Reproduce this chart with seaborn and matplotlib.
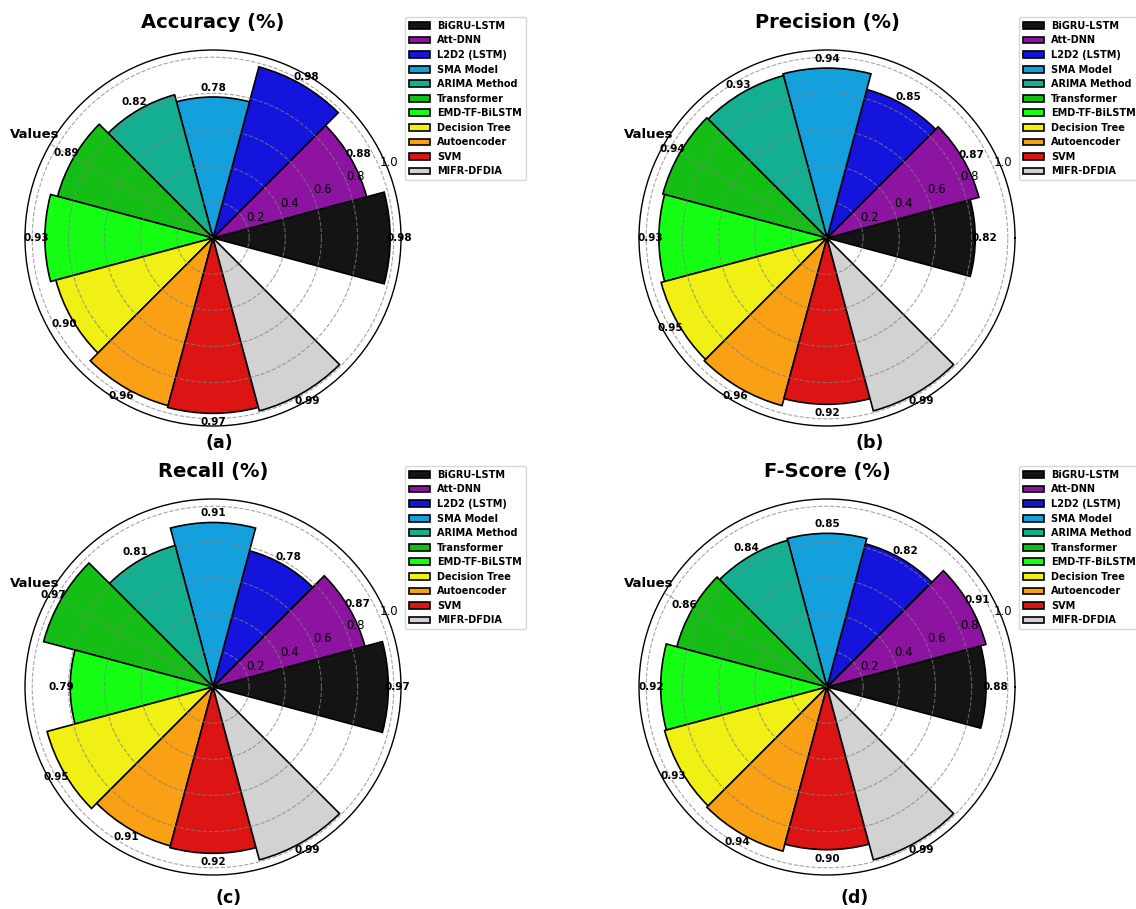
import numpy as np
import pandas as pd
import matplotlib
matplotlib.use("Agg")
import matplotlib.pyplot as plt
import seaborn as sns

# Models compared in each panel (counter-clockwise from the east direction)
models = ["BiGRU-LSTM", "Att-DNN", "L2D2 (LSTM)", "SMA Model", "ARIMA Method",
          "Transformer", "EMD-TF-BiLSTM", "Decision Tree", "Autoencoder", "SVM",
          "MIFR-DFDIA"]

accuracy = [0.98, 0.88, 0.98, 0.78, 0.82, 0.89, 0.93, 0.90, 0.96, 0.97, 0.99]
precision = [0.82, 0.87, 0.85, 0.94, 0.93, 0.94, 0.93, 0.95, 0.96, 0.92, 0.99]
recall = [0.97, 0.87, 0.78, 0.91, 0.81, 0.97, 0.79, 0.95, 0.91, 0.92, 0.99]
fscore = [0.88, 0.91, 0.82, 0.85, 0.84, 0.86, 0.92, 0.93, 0.94, 0.90, 0.99]

titles = ["Accuracy (%)", "Precision (%)", "Recall (%)", "F-Score (%)"]
panel_tags = ["(a)", "(b)", "(c)", "(d)"]
radial_ticks = [0.2, 0.4, 0.6, 0.8, 1.0]

colors = ["#141414", "#8C14A0", "#1414DC", "#14A0DC", "#14AF91", "#14BE14",
          "#14FF14", "#F0F014", "#FAA014", "#DC1414", "#D2D2D2"]

# 12 angular slots, the last one left empty
n_slots = 12
angles = np.arange(len(models)) * 2 * np.pi / n_slots

W, H = 1136, 909
fig = plt.figure(figsize=(W / 100, H / 100), dpi=100)

# axes boxes in pixels: (left, top, size)
boxes = [(25, 50, 376), (639, 50, 376), (25, 499, 376), (639, 499, 376)]
tag_pos = [(219, 443), (870, 443), (229, 898), (855, 898)]

for values, title, tag, (bx, by, bs), (tx, ty) in zip(
        [accuracy, precision, recall, fscore], titles, panel_tags, boxes, tag_pos):
    ax = fig.add_axes([bx / W, (H - by - bs) / H, bs / W, bs / H], projection="polar")

    df = pd.DataFrame({"angle": angles, "value": values, "model": models})
    sns.barplot(data=df, x="angle", y="value", hue="model", hue_order=models,
                palette=colors, native_scale=True, width=1.0, saturation=1,
                edgecolor="black", linewidth=1.2, errorbar=None, legend=False,
                ax=ax)
    ax.set_xlabel("")
    ax.set_ylabel("")

    ax.set_ylim(0, 1.04)
    ax.set_yticks(radial_ticks)
    ax.set_yticklabels([f"{t:.1f}" for t in radial_ticks], fontsize=8.5)
    ax.set_rlabel_position(22.5)
    ax.set_xticks([np.deg2rad(150)])
    ax.set_xticklabels([])
    ax.grid(True, linestyle="--", color="gray", alpha=0.7, linewidth=0.8)
    ax.spines["polar"].set_linewidth(1.0)

    for a, v in zip(angles, values):
        ax.text(a, v + 0.05, f"{v:.2f}", ha="center", va="center",
                fontsize=7.5, fontweight="bold")

    ax.text(0.027, 0.774, "Values", transform=ax.transAxes, ha="center",
            va="center", fontsize=9.5, fontweight="bold")
    ax.set_title(title, fontsize=14, fontweight="bold", pad=15.5)

    bars = sorted(ax.patches, key=lambda p: p.get_x() + p.get_width() / 2)
    ax.legend(handles=bars, labels=models, loc="upper left",
              bbox_to_anchor=(1.011, 1.088), borderaxespad=0,
              prop={"size": 7, "weight": "bold"}, labelspacing=0.47,
              handlelength=2.2, handletextpad=0.7)

    fig.text(tx / W, 1 - ty / H, tag, ha="center", va="center",
             fontsize=12.5, fontweight="bold")

fig.savefig("out.png", dpi=100)
